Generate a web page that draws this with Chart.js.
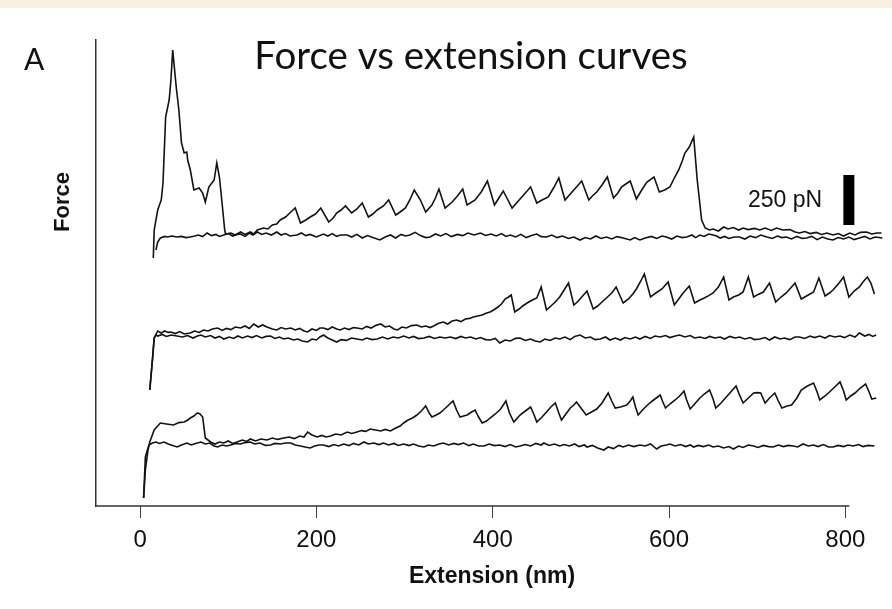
<!DOCTYPE html>
<html>
<head>
<meta charset="utf-8">
<script src="https://cdn.jsdelivr.net/npm/chart.js@4/dist/chart.umd.min.js"></script>
<style>
  html, body { margin: 0; padding: 0; background: #ffffff; }
  #wrap { width: 892px; height: 609px; position: relative; }
</style>
</head>
<body>
<div id="wrap"><canvas id="c" width="892" height="609"></canvas></div>
<script>
// Extension ticks (nm)
const xTicks = [0, 200, 400, 600, 800];

// Vertical offsets (pN) used to stack the three force-extension recordings
const panelOffsets = { top: 1350, middle: 840, bottom: 305 };

// Scale bar: 250 pN
const scaleBarForce = 250;
const scaleBarBase = 1405;
const scaleBarX = 804;

// Top recording: stretching trace [extension nm, force pN]
const topStretch = [
  [15,-110],[16,30],[20,130],[24,180],[26,265],[29,595],[33,680],[35,780],[37,930],[41,745],
  [44,630],[47,465],[50,415],[53,420],[54,380],[57,330],[61,230],[67,240],[71,215],[74,170],
  [78,245],[84,280],[87,365],[90,295],[93,165],[96,30],[97,10],[103,15],[108,5],[114,20],
  [119,8],[125,20],[129,10],[133,30],[140,40],[145,35],[150,55],[155,60],[159,80],[165,95],
  [171,120],[176,140],[182,65],[188,80],[193,95],[199,110],[205,140],[214,70],[219,90],[223,115],
  [228,130],[233,150],[240,115],[246,135],[252,165],[259,95],[264,110],[269,130],[276,150],[282,180],
  [290,105],[295,120],[301,140],[306,180],[311,230],[318,180],[324,120],[331,155],[335,190],[339,235],
  [346,140],[354,170],[360,200],[366,235],[371,155],[380,180],[387,220],[394,275],[402,155],[407,190],
  [412,225],[422,140],[427,165],[433,195],[438,220],[443,245],[450,165],[456,180],[463,195],[469,240],
  [475,290],[482,180],[488,210],[494,240],[501,275],[509,180],[513,200],[518,220],[524,255],[530,295],
  [537,190],[542,215],[546,245],[551,260],[556,275],[563,185],[569,230],[575,270],[583,295],[589,220],
  [595,230],[601,245],[606,290],[611,330],[615,375],[618,415],[623,445],[628,495],[632,280],[637,80],
  [641,40],[646,30],[650,35],[656,25],[662,45],[667,35],[673,42],[679,30],[684,40],[690,32],
  [697,38],[703,30],[709,40],[716,28],[722,40],[729,30],[737,32],[743,20],[748,15],[754,22],
  [760,12],[767,18],[773,8],[779,15],[786,5],[792,12],[798,0],[805,15],[811,5],[817,18],
  [824,20],[830,10],[836,15],[841,15]
];

// Top recording: relaxation trace
const topRelax = [
  [18,-70],[20,-30],[23,-10],[28,-2],[31,-5],[36,0],[42,-5],[47,-2],[52,-8],[57,-5],
  [62,0],[66,5],[71,-3],[76,15],[81,2],[86,8],[90,-2],[95,5],[100,12],[105,0],
  [110,8],[114,10],[119,-2],[124,15],[128,5],[133,20],[138,8],[143,15],[149,5],[155,20],
  [160,5],[165,12],[170,0],[178,5],[183,15],[188,2],[193,8],[200,-5],[208,10],[213,0],
  [218,12],[223,-2],[227,5],[235,5],[240,-5],[246,8],[252,-10],[258,2],[264,-8],[272,-20],
  [278,-5],[284,5],[290,-10],[296,8],[301,0],[306,5],[312,18],[318,2],[324,-8],[329,-5],
  [335,10],[341,0],[347,12],[353,-3],[360,8],[366,2],[372,15],[379,5],[386,15],[392,3],
  [398,10],[404,0],[410,12],[415,-2],[420,5],[426,-5],[432,8],[438,-8],[444,2],[450,10],
  [455,-3],[461,-5],[467,5],[473,-8],[479,0],[486,-12],[492,-5],[499,-20],[505,-8],[511,-15],
  [517,0],[523,-12],[529,-5],[535,-15],[541,-3],[548,-10],[556,-20],[561,-8],[567,-20],[573,-10],
  [580,-2],[586,-12],[592,0],[597,-5],[603,-15],[609,0],[615,-8],[620,-5],[626,5],[630,-8],
  [635,5],[640,-2],[645,10],[650,5],[654,0],[658,-10],[663,-2],[668,-12],[674,-5],[680,-5],
  [686,-15],[692,0],[698,-8],[704,5],[711,-5],[717,-12],[723,0],[728,-8],[733,-5],[739,-15],
  [745,-2],[751,-12],[756,-10],[762,-2],[768,-18],[774,-5],[780,-15],[786,-20],[792,-8],[798,-15],
  [804,-5],[810,-18],[816,-10],[822,-2],[828,-15],[834,-5],[842,-10]
];

// Middle recording: stretching trace
const middleStretch = [
  [11,-260],[14,-110],[16,0],[20,35],[24,25],[28,35],[32,28],[35,30],[40,22],[45,32],
  [50,20],[57,25],[62,35],[67,28],[72,40],[77,35],[82,45],[88,50],[93,38],[98,48],
  [103,42],[108,55],[114,50],[119,60],[124,48],[129,70],[134,55],[139,65],[144,55],[150,45],
  [155,40],[160,52],[165,45],[171,50],[176,40],[181,48],[186,35],[190,30],[195,45],[200,38],
  [204,50],[208,50],[213,42],[218,55],[223,45],[227,40],[232,50],[237,42],[242,52],[246,50],
  [252,45],[257,58],[262,50],[267,62],[273,70],[278,55],[283,60],[288,45],[292,40],[297,55],
  [302,50],[308,62],[314,65],[319,55],[324,60],[329,52],[333,60],[338,72],[344,80],[349,70],
  [354,85],[359,90],[364,82],[369,95],[374,98],[378,105],[383,110],[388,115],[393,125],[397,130],
  [401,140],[406,155],[410,170],[414,195],[418,205],[421,215],[425,130],[430,145],[434,160],[439,175],
  [445,190],[450,200],[455,255],[461,140],[466,160],[471,180],[476,205],[481,240],[486,275],[492,165],
  [496,180],[501,205],[507,235],[514,145],[519,160],[524,180],[529,200],[535,225],[540,255],[548,175],
  [554,195],[559,220],[563,245],[568,285],[572,320],[579,205],[585,225],[592,245],[599,280],[606,165],
  [611,195],[616,225],[623,260],[629,175],[635,190],[640,200],[645,212],[650,225],[656,255],[662,305],
  [668,190],[673,205],[679,215],[684,230],[690,305],[696,205],[701,218],[707,230],[714,275],[721,180],
  [727,205],[733,225],[738,250],[743,275],[750,195],[756,210],[764,230],[770,300],[777,210],[782,225],
  [786,240],[792,270],[798,305],[804,205],[810,235],[816,255],[820,280],[825,305],[829,275],[833,220]
];

// Middle recording: relaxation trace
const middleRelax = [
  [11,-260],[14,-110],[16,0],[18,15],[20,10],[25,18],[30,8],[35,15],[42,10],[48,5],
  [54,12],[60,0],[65,10],[69,15],[74,5],[80,12],[85,0],[90,8],[95,-5],[101,5],
  [106,-2],[111,10],[116,0],[122,10],[127,2],[132,12],[138,0],[143,8],[148,10],[153,-2],
  [158,5],[163,-5],[168,0],[174,-10],[179,-5],[184,-15],[190,-20],[195,-5],[200,-10],[204,5],
  [208,15],[213,0],[218,-10],[223,-20],[228,-8],[234,-12],[240,0],[246,-5],[252,-10],[257,0],
  [263,-8],[269,-5],[275,5],[281,-5],[287,5],[293,0],[299,10],[305,0],[310,8],[316,-3],
  [322,0],[328,8],[334,-2],[340,5],[346,0],[352,5],[358,-3],[364,8],[369,0],[375,5],
  [381,-5],[386,2],[392,-8],[397,-10],[403,-2],[408,-25],[414,-10],[420,-15],[426,-2],[431,0],
  [437,-12],[443,-5],[448,-15],[454,-20],[459,-5],[465,-12],[471,0],[476,-5],[482,5],[488,-8],
  [493,8],[499,15],[505,0],[511,5],[516,-8],[522,-5],[528,5],[533,-10],[539,0],[545,-10],
  [550,2],[556,-5],[562,5],[567,-5],[573,8],[579,-2],[584,10],[590,5],[596,12],[601,2],
  [607,10],[612,15],[618,5],[624,12],[629,0],[635,5],[641,-2],[646,8],[652,0],[658,5],
  [663,-5],[669,8],[675,0],[680,5],[686,-5],[692,2],[697,-8],[703,-5],[709,2],[714,-10],
  [720,5],[726,-5],[731,0],[737,-8],[743,5],[748,5],[754,-2],[760,10],[765,2],[771,10],
  [777,0],[782,12],[788,5],[794,10],[799,2],[805,15],[811,5],[816,25],[822,10],[827,18],
  [831,8],[835,15]
];

// Bottom recording: stretching trace
const bottomStretch = [
  [4,-265],[6,-125],[9,-25],[11,15],[16,75],[23,110],[30,105],[38,100],[44,112],[50,115],
  [54,125],[57,135],[61,145],[65,160],[68,155],[71,140],[74,35],[80,15],[85,5],[90,15],
  [95,10],[100,20],[105,8],[110,15],[116,25],[121,18],[125,30],[131,20],[137,30],[144,25],
  [150,35],[156,28],[163,35],[169,40],[175,32],[181,45],[186,40],[190,65],[195,50],[201,40],
  [206,48],[211,40],[216,45],[222,55],[228,50],[235,65],[240,58],[246,65],[251,72],[256,68],
  [261,80],[267,75],[273,70],[278,78],[284,70],[290,85],[295,95],[299,110],[304,125],[309,135],
  [314,150],[319,170],[324,195],[328,160],[331,140],[336,150],[340,160],[344,175],[349,195],[355,220],
  [359,175],[363,140],[367,145],[371,150],[376,165],[380,175],[384,140],[388,110],[393,120],[397,135],
  [403,155],[409,180],[415,220],[419,160],[424,115],[428,135],[431,150],[437,170],[443,190],[447,150],
  [450,115],[456,140],[461,165],[466,190],[471,210],[475,160],[478,125],[483,155],[488,185],[492,200],
  [495,215],[501,180],[506,150],[512,165],[518,180],[524,210],[531,260],[535,220],[539,185],[545,190],
  [552,200],[556,220],[559,240],[562,190],[565,150],[571,180],[578,210],[584,230],[590,250],[593,215],
  [596,185],[601,205],[607,225],[612,245],[617,270],[620,225],[624,180],[629,205],[635,235],[640,255],
  [646,275],[650,230],[653,185],[659,210],[665,240],[670,265],[676,295],[680,250],[684,210],[690,235],
  [696,260],[700,262],[704,260],[709,210],[714,235],[720,260],[724,220],[728,185],[734,195],[739,200],
  [745,235],[750,275],[757,295],[764,310],[768,265],[771,225],[777,245],[782,265],[788,290],[794,315],
  [798,270],[801,225],[806,245],[811,260],[817,285],[823,305],[827,265],[830,230],[835,235]
];

// Bottom recording: relaxation trace
const bottomRelax = [
  [4,-265],[6,-60],[10,0],[14,10],[18,15],[22,8],[27,15],[32,5],[37,-2],[42,-10],
  [47,0],[53,10],[58,0],[63,8],[69,15],[74,5],[79,10],[84,-5],[88,-10],[93,0],
  [98,-5],[103,0],[108,8],[114,5],[119,12],[125,15],[130,5],[136,10],[142,-2],[148,0],
  [153,8],[159,5],[165,10],[171,10],[176,0],[182,-5],[187,-10],[193,-15],[198,-5],[203,0],
  [208,0],[214,-8],[220,2],[225,-5],[231,5],[237,-3],[242,8],[248,0],[254,15],[259,5],
  [265,10],[271,2],[276,10],[282,0],[288,8],[293,-2],[299,5],[305,-3],[310,5],[316,-5],
  [322,-10],[327,0],[333,-5],[339,5],[344,10],[350,0],[356,8],[361,2],[367,10],[373,-3],
  [378,5],[384,-5],[390,-5],[396,5],[402,-3],[408,0],[414,-8],[420,2],[426,-10],[431,-5],
  [437,2],[443,-5],[449,8],[455,0],[458,10],[464,-2],[470,5],[476,-5],[481,2],[487,-5],
  [493,5],[498,-8],[504,0],[507,-10],[513,-2],[519,-15],[526,-25],[531,-10],[537,-18],[543,-2],
  [548,-10],[554,0],[560,-8],[567,0],[573,-5],[579,5],[586,-20],[591,-5],[597,0],[601,5],
  [607,-5],[613,2],[619,-8],[624,0],[628,-10],[633,-2],[639,-8],[645,0],[650,-10],[656,-5],
  [662,-15],[668,-8],[673,-20],[679,-5],[684,-12],[690,0],[696,-5],[701,-12],[707,-2],[713,-8],
  [718,-10],[724,0],[730,-8],[735,-2],[741,-5],[746,-10],[752,5],[758,-5],[764,0],[769,-8],
  [775,2],[781,-10],[786,-10],[792,-2],[798,-8],[803,0],[809,-5],[815,2],[820,-8],[826,-2],
  [833,-5]
];

const traceColor = '#121212';

function trace(points, offset) {
  return {
    data: points.map(([x, f]) => ({ x: x, y: offset + f })),
    borderColor: traceColor,
    borderWidth: 1.6,
    borderJoinStyle: 'miter',
    pointRadius: 0,
    tension: 0,
    fill: false
  };
}

const datasets = [
  trace(topStretch, panelOffsets.top),
  trace(topRelax, panelOffsets.top),
  trace(middleStretch, panelOffsets.middle),
  trace(middleRelax, panelOffsets.middle),
  trace(bottomStretch, panelOffsets.bottom),
  trace(bottomRelax, panelOffsets.bottom),
  {
    data: [{ x: scaleBarX, y: scaleBarBase }, { x: scaleBarX, y: scaleBarBase + scaleBarForce }],
    borderColor: '#000000',
    borderWidth: 11,
    borderCapStyle: 'butt',
    pointRadius: 0,
    fill: false
  }
];

// Page background, annotations and the shortened extension axis line
const decorations = {
  id: 'decorations',
  beforeDraw(chart) {
    const ctx = chart.ctx;
    ctx.save();
    ctx.fillStyle = '#ffffff';
    ctx.fillRect(0, 0, chart.width, chart.height);
    ctx.fillStyle = '#f8f1e2';
    ctx.fillRect(0, 0, chart.width, 8);
    ctx.restore();
  },
  afterDraw(chart) {
    const ctx = chart.ctx;
    const xs = chart.scales.x;
    const area = chart.chartArea;
    ctx.save();
    // extension axis line
    ctx.strokeStyle = '#333333';
    ctx.lineWidth = 1.5;
    ctx.beginPath();
    ctx.moveTo(area.left - 1, area.bottom);
    ctx.lineTo(xs.getPixelForValue(xTicks[xTicks.length - 1]) + 4, area.bottom);
    ctx.stroke();

    ctx.fillStyle = '#111111';
    ctx.textBaseline = 'alphabetic';
    ctx.textAlign = 'left';
    ctx.font = '30px Lato';
    ctx.fillText('A', 24, 70);

    ctx.textAlign = 'center';
    ctx.font = '38.5px Lato';
    ctx.fillText('Force vs extension curves', 471, 69);

    ctx.font = 'bold 23px "Liberation Sans"';
    ctx.textBaseline = 'middle';
    ctx.fillText('Extension (nm)', 492, 577);

    ctx.save();
    ctx.translate(63, 202);
    ctx.rotate(-Math.PI / 2);
    ctx.font = 'bold 22px "Liberation Sans"';
    ctx.fillText('Force', 0, 0);
    ctx.restore();

    ctx.textAlign = 'left';
    ctx.font = '23px "Liberation Sans"';
    ctx.fillText('250 pN', 748, 201);
    ctx.restore();
  }
};

new Chart(document.getElementById('c'), {
  type: 'line',
  data: { datasets: datasets },
  plugins: [decorations],
  options: {
    responsive: false,
    animation: false,
    events: [],
    layout: { padding: { left: 0, right: 7, top: 40, bottom: 0 } },
    plugins: { legend: { display: false }, tooltip: { enabled: false }, title: { display: false } },
    scales: {
      x: {
        type: 'linear',
        min: -50,
        max: 845,
        afterBuildTicks(scale) { scale.ticks = xTicks.map(v => ({ value: v })); },
        afterFit(scale) { scale.height = 103; },
        border: { display: false },
        grid: { display: true, drawOnChartArea: false, drawTicks: true, tickLength: 12, color: '#444444', lineWidth: 1 },
        ticks: { color: '#111111', font: { family: 'Liberation Sans', size: 24 }, padding: 8, maxRotation: 0 }
      },
      y: {
        type: 'linear',
        min: 0,
        max: 2330,
        afterFit(scale) { scale.width = 96; },
        border: { display: true, color: '#333333', width: 1.5 },
        grid: { display: false },
        ticks: { display: false }
      }
    }
  }
});
</script>
</body>
</html>
